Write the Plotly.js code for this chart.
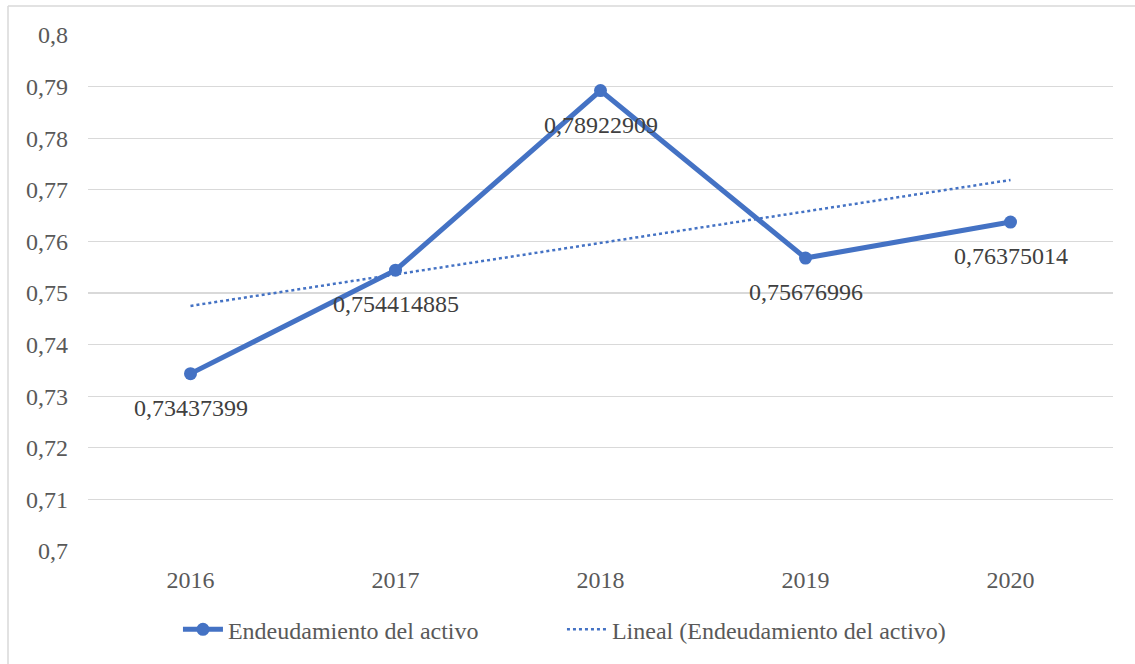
<!DOCTYPE html>
<html>
<head>
<meta charset="utf-8">
<script src="https://cdn.plot.ly/plotly-3.0.1.min.js"></script>
<style>
html,body{margin:0;padding:0;background:#fff;}
#chart{width:1135px;height:664px;}
</style>
</head>
<body>
<div id="chart"></div>
<script>
const years = ['2016', '2017', '2018', '2019', '2020'];
const values = [0.73437399, 0.754414885, 0.78922909, 0.75676996, 0.76375014];
const labels = ['0,73437399', '0,754414885', '0,78922909', '0,75676996', '0,76375014'];
const trendYears = ['2016', '2020'];
const trendValues = [0.7475, 0.7719];
const yTicks = [0.7, 0.71, 0.72, 0.73, 0.74, 0.75, 0.76, 0.77, 0.78, 0.79, 0.8];
const yTickText = ['0,7', '0,71', '0,72', '0,73', '0,74', '0,75', '0,76', '0,77', '0,78', '0,79', '0,8'];
const seriesName = 'Endeudamiento del activo';
const trendName = 'Lineal (Endeudamiento del activo)';

const blue = '#4472C4';
const FAM = 'Liberation Serif';
const FS = 24;

const traces = [
  {
    x: years, y: values, type: 'scatter', mode: 'lines+markers',
    name: seriesName,
    line: {color: blue, width: 5},
    marker: {color: blue, size: 13},
    cliponaxis: false
  },
  {
    x: trendYears, y: trendValues, type: 'scatter', mode: 'lines',
    name: trendName,
    line: {color: blue, width: 2.5, dash: 'dot'}
  }
];

// category axis: annotation x given as the category index
const annotations = years.map((yr, i) => ({
  x: i, y: values[i], xref: 'x', yref: 'y', text: labels[i], showarrow: false,
  yshift: -34, xanchor: 'center', yanchor: 'middle',
  font: {family: FAM, size: FS, color: '#404040'}
}));

const layout = {
  width: 1135, height: 664,
  margin: {l: 88, r: 22, t: 35, b: 113, autoexpand: false},
  paper_bgcolor: '#fff', plot_bgcolor: '#fff',
  font: {family: FAM, size: FS, color: '#595959'},
  separators: ',.',
  showlegend: true,
  legend: {orientation: 'h', x: 0.4624, xanchor: 'center', y: -0.109, yanchor: 'top',
           entrywidth: 329, itemwidth: 40,
           font: {family: FAM, size: FS, color: '#595959'}, traceorder: 'normal'},
  xaxis: {
    type: 'category', range: [-0.5, 4.5], showgrid: false, zeroline: false,
    showline: false, ticks: '', ticklabelstandoff: 12,
    tickfont: {family: FAM, size: FS, color: '#595959'}
  },
  yaxis: {
    range: [0.7, 0.8], tickvals: yTicks, ticktext: yTickText,
    showgrid: true, gridcolor: '#d9d9d9', gridwidth: 1.3, zeroline: false,
    showline: false, ticks: '', ticklabelstandoff: 19,
    tickfont: {family: FAM, size: FS, color: '#595959'}
  },
  annotations: annotations,
  shapes: [
    {type: 'line', xref: 'paper', yref: 'paper', x0: (8 - 88) / 1025, x1: (1135 - 88) / 1025,
     y0: (551 - 6) / 516, y1: (551 - 6) / 516, line: {color: '#d9d9d9', width: 1.5}},
    {type: 'line', xref: 'paper', yref: 'paper', x0: (8 - 88) / 1025, x1: (8 - 88) / 1025,
     y0: (551 - 6) / 516, y1: (551 - 664) / 516, line: {color: '#d9d9d9', width: 1.5}}
  ]
};

Plotly.newPlot('chart', traces, layout, {displayModeBar: false, staticPlot: true});
</script>
</body>
</html>
